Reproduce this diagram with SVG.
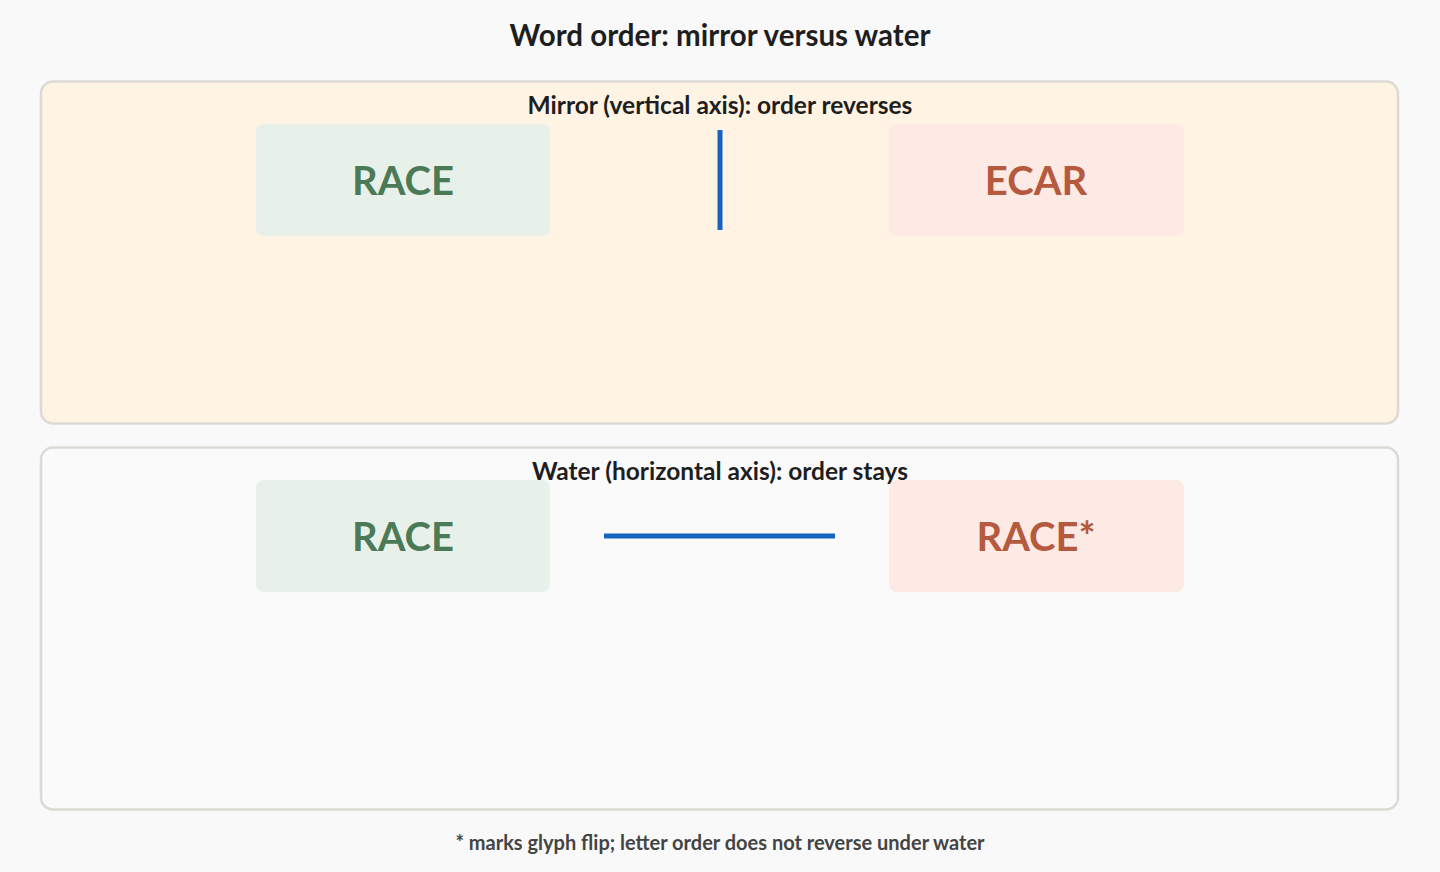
<svg xmlns="http://www.w3.org/2000/svg" width="1440" height="872" viewBox="0 0 1440 872">
<style>
text{font-family:Lato,"Noto Sans","Liberation Sans",sans-serif;font-weight:bold;text-anchor:middle}
.panel{stroke:#dddad5;stroke-width:2.5}
.plabel{font-size:24.5px;fill:#1e1e1e}
.box{rx:8}
.g{fill:#e7f1e9}
.r{fill:#fdeae4}
.gt{fill:#4b7a57;font-size:40px}
.rt{fill:#b55a3f;font-size:40px}
.axis{stroke:#1565c0;stroke-width:5}
</style>
<rect width="1440" height="872" fill="#f9f9f9"/>
<text x="720" y="46" font-size="29.5" fill="#1e1e1e">Word order: mirror versus water</text>
<g id="mirror-panel">
<rect class="panel" x="41" y="81.5" width="1357" height="342" rx="12" fill="#fff3e3"/>
<text class="plabel" x="720" y="114">Mirror (vertical axis): order reverses</text>
</g>
<g id="water-panel">
<rect class="panel" x="41" y="447.5" width="1357" height="362" rx="12" fill="#fafafa"/>
<text class="plabel" x="720" y="480">Water (horizontal axis): order stays</text>
</g>
<g id="mirror-race">
<rect class="box g" x="256" y="124" width="294" height="112"/>
<text class="gt" x="403" y="195">RACE</text>
</g>
<g id="mirror-ecar">
<rect class="box r" x="889" y="124" width="295" height="112"/>
<text class="rt" x="1036" y="195">ECAR</text>
</g>
<g id="water-race">
<rect class="box g" x="256" y="480" width="294" height="112"/>
<text class="gt" x="403" y="551">RACE</text>
</g>
<g id="water-race-flipped">
<rect class="box r" x="889" y="480" width="295" height="112"/>
<text class="rt" x="1036" y="551">RACE*</text>
</g>
<g id="axes">
<line class="axis" x1="720" y1="130" x2="720" y2="230"/>
<line class="axis" x1="604" y1="536" x2="835" y2="536"/>
</g>
<text x="720" y="850" font-size="20" fill="#444">* marks glyph flip; letter order does not reverse under water</text>
</svg>
